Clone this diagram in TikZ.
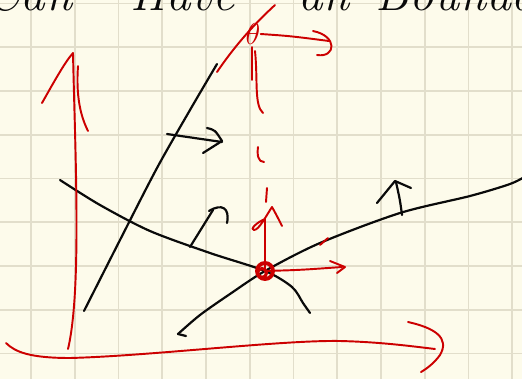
\documentclass[tikz,border=0pt]{standalone}
\usepackage{xcolor}
\usepackage{tikz}
\usetikzlibrary{calc}
\definecolor{paper}{HTML}{FDFBEB}
\definecolor{gridc}{HTML}{E2DECB}
\definecolor{pen}{HTML}{CC0000}
\definecolor{ink}{HTML}{0A0A0A}

\begin{document}
\begin{tikzpicture}[
    x=0.02cm, y=-0.02cm,
    gridline/.style={draw=gridc, line width=0.9pt},
    blackpen/.style={draw=ink, line width=1.25pt, line cap=round, line join=round},
    redpen/.style={draw=pen, line width=1.1pt, line cap=round, line join=round},
    word/.style={anchor=base west, inner sep=0pt, text=ink,
                 font=\fontsize{28}{28}\selectfont\itshape},
    label/.style={inner sep=0pt, text=pen, font=\fontsize{17}{17}\selectfont},
]
\useasboundingbox (0,0) rectangle (522,379);
\fill[paper] (0,0) rectangle (522,379);
\clip (0,0) rectangle (522,379);

\foreach \i in {0,...,11}
    \draw[gridline] ({31+43.75*\i},0) -- ({31+43.75*\i},379);
\foreach \i in {0,...,8}
    \draw[gridline] (0,{3.5+43.75*\i}) -- (522,{3.5+43.75*\i});

% heading, cut off at the top
\node[word] (w1) at (-14,10) {Can};
\node[word] (w2) at (130,10) {Have};
\node[word] (w3) at (298,10) {an};
\node[word] (w4) at (375,10) {Boundary};

\coordinate (o) at (265,271);

% black curves
\draw[blackpen] plot[smooth] coordinates {(84,311) (120,240) (157,168) (190,110) (217,64)};
\draw[blackpen] plot[smooth] coordinates {(60,180) (100,205) (150,231) (210,253) (o) (292,287) (303,303) (310,313)};
\draw[blackpen] (186,336) -- (178,334);
\draw[blackpen] plot[smooth] coordinates {(178,334) (200,315) (230,294) (o) (320,243) (400,213) (470,196) (510,184) (526,176)};

% black normals
\draw[blackpen] (167,134) -- (222,142);
\draw[blackpen] (207,128) .. controls (215,130) .. (222,141) -- (203,153);
\draw[blackpen] (190,247) -- (213,210);
\draw[blackpen] (209,211) .. controls (222,203) and (230,208) .. (227,223);
\draw[blackpen] (402,215) .. controls (400,200) .. (396,182);
\draw[blackpen] (377,203) -- (395,181) -- (411,188);

% red axes
\draw[redpen] (42,103) .. controls (55,80) and (65,62) .. (73,53)
    .. controls (75,150) and (82,290) .. (68,349);
\draw[redpen] (78,66) .. controls (76,95) and (80,115) .. (88,131);
\draw[redpen] (6,343) .. controls (15,352) and (30,358) .. (70,358)
    .. controls (150,356) and (280,340) .. (340,341)
    .. controls (380,342) and (410,346) .. (435,349);
\draw[redpen] (408,322) .. controls (435,328) and (450,338) .. (440,355)
    .. controls (435,362) and (428,368) .. (421,372);

% red continuation and angle
\draw[redpen] (217,72) .. controls (232,50) and (250,28) .. (275,5);
\node[label] (theta) at (253,34) {$\theta$};
\draw[redpen] (theta.east) .. controls (290,36) .. (329,41);
\draw[redpen] (313,31) .. controls (338,36) and (336,58) .. (317,55);
\draw[redpen] (252,47) -- (252,80);
\draw[redpen] (255,51) .. controls (258,80) and (254,105) .. (263,113);
\draw[redpen] (258,147) .. controls (257,155) and (258,162) .. (264,162);
\draw[redpen] (267,188) -- (266,202);

% red frame at the point
\draw[redpen] (o) -- (265,219)
    .. controls (257,222) and (249,230) .. (254,230)
    .. controls (259,230) and (266,216) .. (272,207)
    .. controls (276,214) and (279,220) .. (282,226);
\draw[redpen, line width=2.2pt] (o) circle[radius=8];
\draw[redpen, line width=1.8pt] ($(o)+(-3,2)$) circle[radius=4.5];
\draw[redpen] (o) .. controls (300,270) .. (342,267);
\draw[redpen] (330,261) -- (345,267) -- (337,273);
\draw[redpen] (320,245) -- (328,238);

\end{tikzpicture}
\end{document}
